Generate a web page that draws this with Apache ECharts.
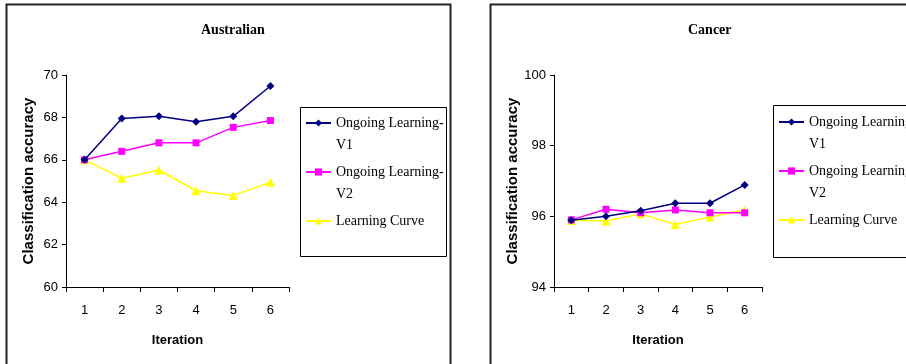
<!DOCTYPE html>
<html>
<head>
<meta charset="utf-8">
<script src="https://cdn.jsdelivr.net/npm/echarts@6/dist/echarts.min.js"></script>
<style>
html,body{margin:0;padding:0;background:#fff;}
#c{width:906px;height:364px;}
</style>
</head>
<body>
<div id="c"></div>
<script>
var iterations = ['1', '2', '3', '4', '5', '6'];
var seriesNames = ['Ongoing Learning-V1', 'Ongoing Learning-V2', 'Learning Curve'];
var australianV1 = [66.0, 67.95, 68.05, 67.8, 68.05, 69.48];
var australianV2 = [66.0, 66.4, 66.8, 66.8, 67.53, 67.85];
var australianLC = [66.0, 65.13, 65.52, 64.54, 64.32, 64.94];
var cancerV1 = [95.89, 96.0, 96.16, 96.37, 96.37, 96.89];
var cancerV2 = [95.9, 96.2, 96.1, 96.18, 96.1, 96.1];
var cancerLC = [95.88, 95.87, 96.07, 95.77, 95.98, 96.18];
var australianTicks = [60, 70, 2];
var cancerTicks = [94, 100, 2];

var colors = ['#000080', '#FF00FF', '#FFFF00'];
var symbols = ['diamond', 'rect', 'triangle'];
var symbolSizes = [8, 7, 9];

var chart = echarts.init(document.getElementById('c'), null, {renderer: 'canvas'});

function xAxis(gridIndex) {
  return {
    type: 'category', gridIndex: gridIndex, data: iterations, boundaryGap: true,
    name: 'Iteration', nameLocation: 'middle', nameGap: 47,
    nameTextStyle: {fontFamily: 'Liberation Sans', fontWeight: 'bold', fontSize: 13, color: '#000'},
    axisLine: {lineStyle: {color: '#000', width: 1}},
    axisTick: {show: true, length: 5, lineStyle: {color: '#000'}, alignWithLabel: false},
    axisLabel: {fontFamily: 'Liberation Sans', fontSize: 13, color: '#000', margin: 17},
    splitLine: {show: false}
  };
}
function yAxis(gridIndex, t) {
  return {
    type: 'value', gridIndex: gridIndex, min: t[0], max: t[1], interval: t[2],
    name: 'Classification accuracy', nameLocation: 'middle', nameGap: 30, nameRotate: 90,
    nameTextStyle: {fontFamily: 'Liberation Sans', fontWeight: 'bold', fontSize: 15, color: '#000'},
    axisLine: {show: true, lineStyle: {color: '#000', width: 1}},
    axisTick: {show: true, length: 4, lineStyle: {color: '#000'}},
    axisLabel: {fontFamily: 'Liberation Sans', fontSize: 13, color: '#000', margin: 8},
    splitLine: {show: false}
  };
}
function mkSeries(idx, data, gi) {
  return {
    type: 'line', name: seriesNames[idx], data: data,
    xAxisIndex: gi, yAxisIndex: gi,
    symbol: symbols[idx], symbolSize: symbolSizes[idx], showSymbol: true,
    lineStyle: {color: colors[idx], width: 1.5},
    itemStyle: {color: colors[idx]},
    animation: false, z: 3 - idx
  };
}
function legend(left, top) {
  return {
    orient: 'vertical', left: left, top: top,
    padding: [0, 0, 0, 5],
    itemWidth: 25, itemHeight: 9, itemGap: -17,
    selectedMode: false,
    textStyle: {fontFamily: 'Liberation Serif', fontSize: 14, color: '#000', lineHeight: 22},
    formatter: function (n) {
      if (n.indexOf('-') >= 0) { return '\n' + n.replace('-', '-\n'); }
      return '\n' + n + '\n ';
    },
    data: seriesNames
  };
}

var option = {
  backgroundColor: '#fff',
  animation: false,
  title: [
    {text: 'Australian', left: 196, top: 18,
     textStyle: {fontFamily: 'Liberation Serif', fontWeight: 'bold', fontSize: 14, color: '#000'}},
    {text: 'Cancer', left: 683, top: 18,
     textStyle: {fontFamily: 'Liberation Serif', fontWeight: 'bold', fontSize: 14, color: '#000'}}
  ],
  grid: [
    {left: 66, top: 75, width: 223, height: 212, containLabel: false},
    {left: 554, top: 75, width: 208, height: 212, containLabel: false}
  ],
  xAxis: [xAxis(0), xAxis(1)],
  yAxis: [yAxis(0, australianTicks), yAxis(1, cancerTicks)],
  legend: [legend(300, 90), legend(773, 89)],
  series: [
    mkSeries(0, australianV1, 0), mkSeries(1, australianV2, 0), mkSeries(2, australianLC, 0),
    mkSeries(0, cancerV1, 1), mkSeries(1, cancerV2, 1), mkSeries(2, cancerLC, 1)
  ],
  graphic: [
    {type: 'rect', shape: {x: 6.5, y: 4.5, width: 444, height: 420}, style: {fill: null, stroke: '#222', lineWidth: 2}, silent: true, z: 0},
    {type: 'rect', shape: {x: 490.5, y: 4.5, width: 500, height: 420}, style: {fill: null, stroke: '#222', lineWidth: 2}, silent: true, z: 0},
    {type: 'rect', shape: {x: 300.5, y: 107.5, width: 146, height: 149}, style: {fill: null, stroke: '#000', lineWidth: 1}, silent: true, z: 0},
    {type: 'rect', shape: {x: 773.5, y: 105.5, width: 200, height: 152}, style: {fill: null, stroke: '#000', lineWidth: 1}, silent: true, z: 0}
  ]
};
chart.setOption(option);
</script>
</body>
</html>
